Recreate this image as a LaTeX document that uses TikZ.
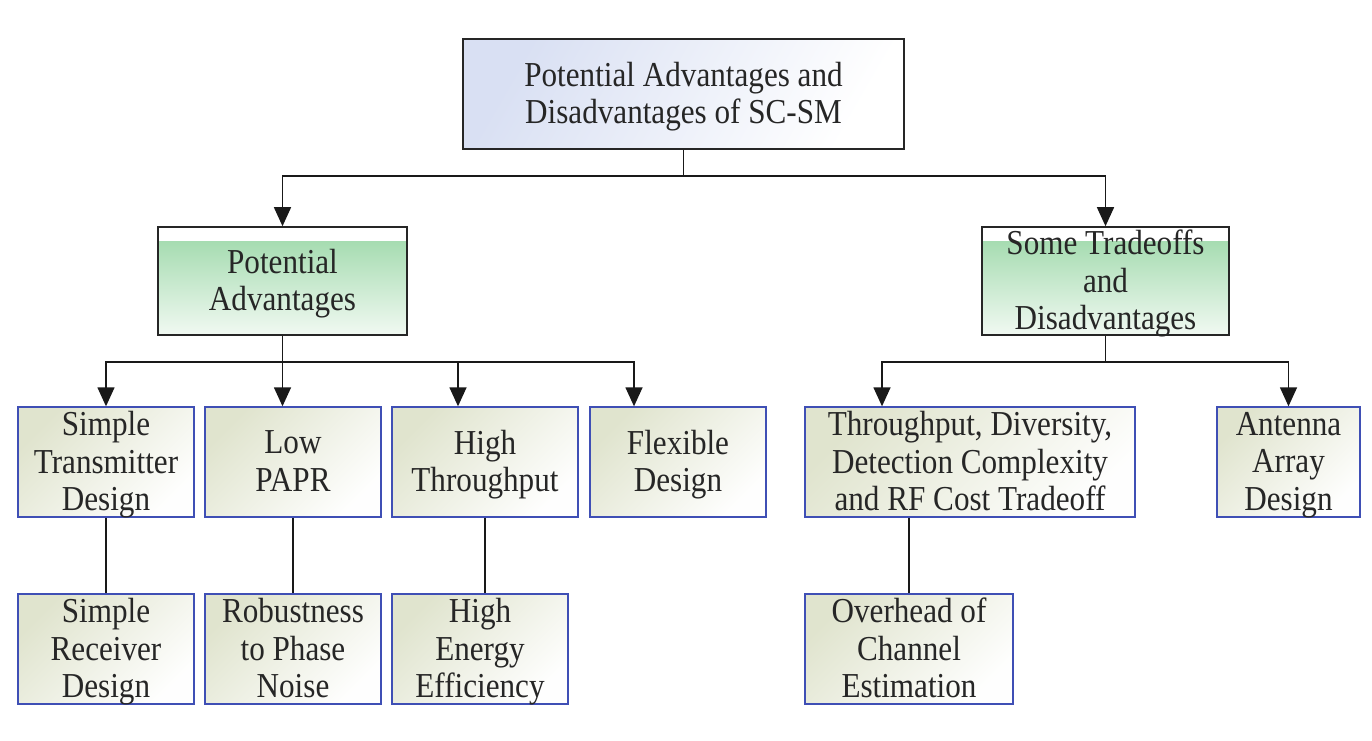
\documentclass[tikz,border=0pt]{standalone}
\usepackage{fontspec}
\setmainfont{Liberation Serif}[FakeStretch=0.89]
\usetikzlibrary{arrows.meta,calc}
\definecolor{topblue}{HTML}{D9E0F3}
\definecolor{gtop}{HTML}{A6DCB1}
\definecolor{gbot}{HTML}{F1F9F2}
\definecolor{leafdark}{HTML}{E0E4CE}
\definecolor{leafborder}{HTML}{3F4FB5}
\tikzset{
  txt/.style={align=center, inner sep=0pt, font=\fontsize{35}{37.5}\selectfont, text=black!85, yshift=-4.7pt,
    execute at begin node=\strut, execute at end node=\strut},
  topbox/.style={draw=black!85, line width=1.6pt, top color=topblue, bottom color=white, shading angle=60},
  greenbox/.style={draw=black!85, line width=1.6pt,
    path picture={
      \fill[white] (path picture bounding box.north west) rectangle (path picture bounding box.south east);
      \shade[top color=gtop, bottom color=gbot] ([yshift=-14pt]path picture bounding box.north west) rectangle (path picture bounding box.south east);
    }},
  leaf/.style={draw=leafborder, line width=1.4pt, top color=leafdark, bottom color=white!97!leafdark, shading angle=45, minimum height=110pt},
  arr/.style={line width=1.5pt, draw=black!90, -{Triangle[length=19pt,width=17pt]}},
  ln/.style={line width=1.5pt, draw=black!90},
}
\begin{document}
\begin{tikzpicture}[x=1pt,y=-1pt]
\useasboundingbox (0,0) rectangle (1372,740);
\fill[white] (0,0) rectangle (1372,740);

\node[topbox, minimum width=441pt, minimum height=110pt, label={[txt]center:Potential Advantages and\\Disadvantages of SC-SM}] (top) at (683.5,94) {};
\node[greenbox, minimum width=249pt, minimum height=108pt, label={[txt]center:Potential\\Advantages}] (PA) at (282.5,281) {};
\node[greenbox, minimum width=247pt, minimum height=108pt, label={[txt]center:Some Tradeoffs\\and\\Disadvantages}] (ST) at (1105.5,281) {};

\node[leaf, minimum width=176pt, label={[txt]center:Simple\\Transmitter\\Design}] (STD) at (106,462) {};
\node[leaf, minimum width=176pt, label={[txt]center:Low\\PAPR}] (LP) at (293,462) {};
\node[leaf, minimum width=186pt, label={[txt]center:High\\Throughput}] (HT) at (485,462) {};
\node[leaf, minimum width=176pt, label={[txt]center:Flexible\\Design}] (FD) at (678,462) {};
\node[leaf, minimum width=330pt, label={[txt]center:Throughput, Diversity,\\Detection Complexity\\and RF Cost Tradeoff}] (TDD) at (970,462) {};
\node[leaf, minimum width=143pt, label={[txt]center:Antenna\\Array\\Design}] (AAD) at (1288.5,462) {};

\node[leaf, minimum width=176pt, label={[txt]center:Simple\\Receiver\\Design}] (SRD) at (106,649) {};
\node[leaf, minimum width=176pt, label={[txt]center:Robustness\\to Phase\\Noise}] (RPN) at (293,649) {};
\node[leaf, minimum width=176pt, label={[txt]center:High\\Energy\\Efficiency}] (HEE) at (480,649) {};
\node[leaf, minimum width=208pt, label={[txt]center:Overhead of\\Channel\\Estimation}] (OCE) at (909,649) {};

\coordinate (bus0) at (0,176);
\coordinate (bus1) at (0,362);

\draw[arr] (top.south) -- (top.south |- bus0) -| (PA.north);
\draw[arr] (top.south |- bus0) -| (ST.north);

\draw[arr] (PA.south) -- (PA.south |- bus1) -| (STD.north);
\draw[arr] (PA.south |- bus1) -- (PA.south |- LP.north);
\draw[arr] (PA.south |- bus1) -| ([xshift=-27pt]HT.north);
\draw[arr] (PA.south |- bus1) -| ([xshift=-44pt]FD.north);

\draw[arr] (ST.south) -- (ST.south |- bus1) -| ([xshift=-88pt]TDD.north);
\draw[arr] (ST.south |- bus1) -| (AAD.north);

\draw[ln] (STD.south) -- (SRD.north);
\draw[ln] (LP.south) -- (RPN.north);
\draw[ln] (HT.south) -- (HT.south |- HEE.north);
\draw[ln] (OCE.north |- TDD.south) -- (OCE.north);
\end{tikzpicture}
\end{document}
